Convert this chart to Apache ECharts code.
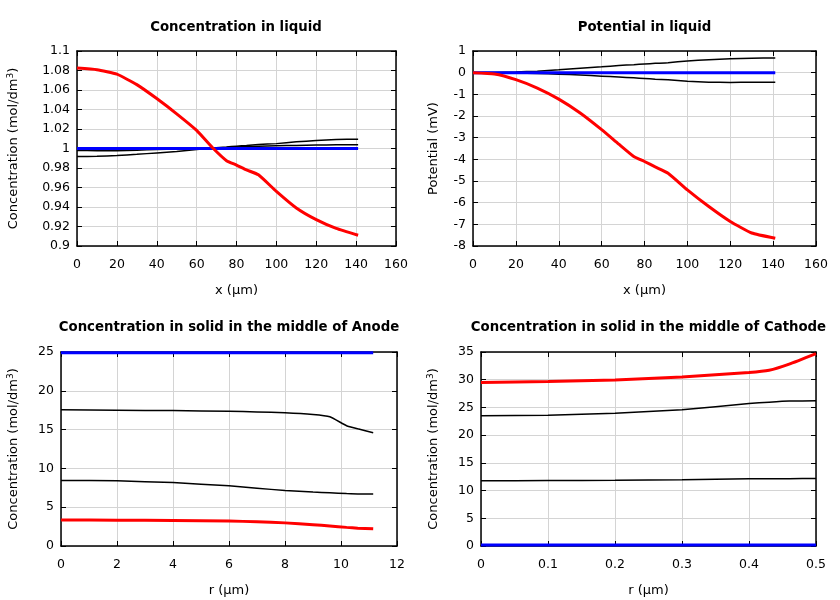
<!DOCTYPE html>
<html><head><meta charset="utf-8">
<script src="https://cdn.jsdelivr.net/npm/echarts@6/dist/echarts.min.js"></script>
<style>html,body{margin:0;padding:0;background:#fff}#c{width:840px;height:600px}</style>
</head><body><div id="c"></div>
<script>
// Panel 1 & 2: liquid, x in µm
var liqX = [0,10,20,30,40,50,60,68,75,80,85,91,100,110,120,130,141];
var concLiqRed = [1.0825,1.0808,1.0762,1.0655,1.0512,1.0355,1.0185,1.0007,0.9875,0.983,0.978,0.973,0.956,0.939,0.927,0.918,0.911];
var concLiqBlackA = [0.9918,0.992,0.9928,0.994,0.9955,0.997,0.999,1.0005,1.0015,1.0024,1.003,1.004,1.005,1.0068,1.0082,1.0092,1.0095];
var concLiqBlackB = [0.998,0.9978,0.9978,0.9982,0.999,0.9995,1.0,1.0005,1.001,1.0015,1.002,1.0023,1.0027,1.0032,1.0036,1.0038,1.0038];
var concLiqBlue = [1,1,1,1,1,1,1,1,1,1,1,1,1,1,1,1,1];
var potRed = [0,-0.06,-0.32,-0.71,-1.22,-1.86,-2.63,-3.3,-3.87,-4.1,-4.35,-4.64,-5.41,-6.18,-6.87,-7.4,-7.64];
var potBlackUp = [0,0.005,0.03,0.07,0.13,0.2,0.27,0.33,0.37,0.4,0.43,0.46,0.54,0.6,0.64,0.67,0.675];
var potBlackDown = [0,-0.005,-0.02,-0.04,-0.07,-0.11,-0.16,-0.2,-0.24,-0.27,-0.3,-0.33,-0.4,-0.44,-0.45,-0.44,-0.44];
var potBlue = [0,0,0,0,0,0,0,0,0,0,0,0,0,0,0,0,0];
// Panel 3: anode solid, r in µm
var anodeR = [0,2,4,6,7,8,9,9.6,10.2,10.6,11.15];
var anodeBlackUp = [17.55,17.5,17.45,17.35,17.28,17.18,16.95,16.65,15.5,15.1,14.6];
var anodeBlackLow = [8.45,8.4,8.17,7.75,7.45,7.15,6.95,6.85,6.75,6.7,6.7];
var anodeRed = [3.35,3.33,3.3,3.22,3.12,2.98,2.75,2.58,2.4,2.3,2.22];
var anodeBlue = [24.9,24.9,24.9,24.9,24.9,24.9,24.9,24.9,24.9,24.9,24.9];
// Panel 4: cathode solid, r in µm
var cathR = [0,0.1,0.2,0.3,0.4,0.43,0.46,0.5];
var cathRed = [29.5,29.7,29.95,30.5,31.3,31.7,32.8,34.7];
var cathBlackUp = [23.5,23.6,23.95,24.6,25.7,25.95,26.15,26.2];
var cathBlackLow = [11.78,11.8,11.85,11.95,12.15,12.15,12.15,12.2];
var cathBlue = [0.2,0.2,0.2,0.2,0.2,0.2,0.2,0.2];

var titles = ['Concentration in liquid','Potential in liquid','Concentration in solid in the middle of Anode','Concentration in solid in the middle of Cathode'];

var FONT = 'DejaVu Sans';
var grids = [
  {left:77, top:51, width:319, height:195},
  {left:473, top:51, width:343, height:195},
  {left:61, top:352, width:336, height:194},
  {left:481, top:352, width:335, height:194}
];
var xAxes = [], yAxes = [];
var concName = 'Concentration (mol/dm{sup|3})';
function addAxes(gi, xmin, xmax, xint, ymin, ymax, yint, xname, yname, yGap){
  var line = {show:true, onZero:false, lineStyle:{color:'#000', width:1.5}};
  var tick = {show:true, inside:true, length:5, lineStyle:{color:'#000', width:1}};
  var split = {show:true, lineStyle:{color:'#d4d4d4', width:1}};
  var lbl = {color:'#000', fontFamily:FONT, fontSize:12.5};
  xAxes.push({type:'value', gridIndex:gi, min:xmin, max:xmax, interval:xint, position:'bottom',
    axisLine:line, axisTick:tick, splitLine:split, axisLabel:Object.assign({margin:12}, lbl),
    name:xname, nameLocation:'middle', nameGap:38, nameTextStyle:{color:'#000', fontFamily:FONT, fontSize:13}});
  xAxes.push({type:'value', gridIndex:gi, min:xmin, max:xmax, interval:xint, position:'top',
    axisLine:line, axisTick:tick, splitLine:{show:false}, axisLabel:{show:false}});
  yAxes.push({type:'value', gridIndex:gi, min:ymin, max:ymax, interval:yint, position:'left',
    axisLine:line, axisTick:tick, splitLine:split, axisLabel:Object.assign({margin:7}, lbl),
    name:yname, nameLocation:'middle', nameGap:yGap, nameRotate:90,
    nameTextStyle:{color:'#000', fontFamily:FONT, fontSize:13,
      rich:{sup:{fontSize:9, fontFamily:FONT, color:'#000', verticalAlign:'bottom', padding:[0,0,7,0]}}}});
  yAxes.push({type:'value', gridIndex:gi, min:ymin, max:ymax, interval:yint, position:'right',
    axisLine:line, axisTick:tick, splitLine:{show:false}, axisLabel:{show:false}});
}
addAxes(0, 0, 160, 20, 0.9, 1.1, 0.02, 'x (µm)', concName, 55);
addAxes(1, 0, 160, 20, -8, 1, 1, 'x (µm)', 'Potential (mV)', 33);
addAxes(2, 0, 12, 2, 0, 25, 5, 'r (µm)', concName, 39);
addAxes(3, 0, 0.5, 0.1, 0, 35, 5, 'r (µm)', concName, 39);

function pairs(xs, ys){ return xs.map(function(x,i){return [x, ys[i]];}); }
var series = [];
function addSeries(gi, xs, ys, color, width){
  series.push({type:'line', xAxisIndex:gi*2, yAxisIndex:gi*2, data:pairs(xs, ys), showSymbol:false,
    smooth:0.15, lineStyle:{color:color, width:width}, itemStyle:{color:color}, silent:true, animation:false});
}
addSeries(0, liqX, concLiqBlackA, '#000', 1.5);
addSeries(0, liqX, concLiqBlackB, '#000', 1.5);
addSeries(0, liqX, concLiqBlue, '#0000ff', 3);
addSeries(0, liqX, concLiqRed, '#ff0000', 3);
addSeries(1, liqX, potBlackUp, '#000', 1.5);
addSeries(1, liqX, potBlackDown, '#000', 1.5);
addSeries(1, liqX, potBlue, '#0000ff', 3);
addSeries(1, liqX, potRed, '#ff0000', 3);
addSeries(2, anodeR, anodeBlackUp, '#000', 1.5);
addSeries(2, anodeR, anodeBlackLow, '#000', 1.5);
addSeries(2, anodeR, anodeBlue, '#0000ff', 3);
addSeries(2, anodeR, anodeRed, '#ff0000', 3);
addSeries(3, cathR, cathBlackUp, '#000', 1.5);
addSeries(3, cathR, cathBlackLow, '#000', 1.5);
addSeries(3, cathR, cathBlue, '#0000ff', 3);
addSeries(3, cathR, cathRed, '#ff0000', 3);

var titleCenters = [[231,16],[639.5,16],[224,316],[643.5,316]];
var chart = echarts.init(document.getElementById('c'), null, {renderer:'canvas'});
chart.setOption({
  animation:false,
  backgroundColor:'#fff',
  title: titles.map(function(t,i){return {text:t, left:titleCenters[i][0], top:titleCenters[i][1], textAlign:'center',
    textStyle:{fontFamily:FONT, fontSize:13.3, fontWeight:'bold', color:'#000'}};}),
  grid: grids,
  xAxis: xAxes,
  yAxis: yAxes,
  series: series
});
</script></body></html>
